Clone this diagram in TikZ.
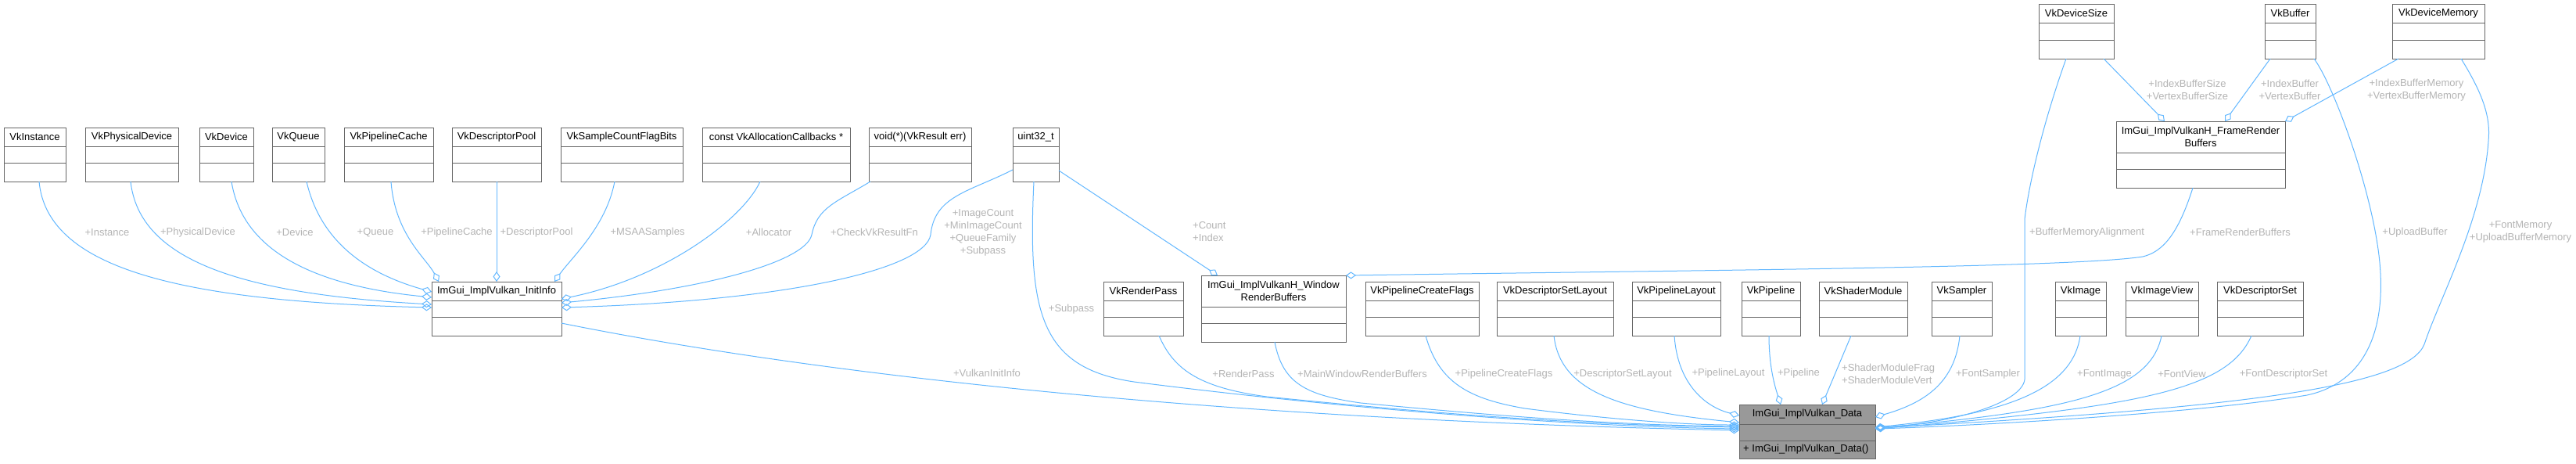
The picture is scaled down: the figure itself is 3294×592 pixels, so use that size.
\documentclass[tikz,border=0pt]{standalone}
\usepackage{fontspec}
\setmainfont{Liberation Sans}
\usetikzlibrary{arrows.meta,calc}
\definecolor{edgeblue}{HTML}{63B8FF}
\definecolor{boxgray}{HTML}{666666}
\definecolor{lblgray}{HTML}{B4B4B4}
\definecolor{datafill}{HTML}{999999}
\newcommand{\umlbox}[9][white]{%
  \pgfmathsetmacro{\bw}{#4-#3}\pgfmathsetmacro{\bh}{#8-#5}%
  \pgfmathsetmacro{\tx}{(#3+#4)/2}\pgfmathsetmacro{\ty}{(#5+#6)/2}%
  \node[classbox, fill=#1, minimum width=\bw pt, minimum height=\bh pt] (#2) at (#3,#5) {};
  \draw[sepline] (#3,#6) -- (#4,#6);
  \draw[sepline] (#3,#7) -- (#4,#7);
  \node[classtext] (#2-t) at (\tx,\ty) {#9};
}
\begin{document}
\begin{tikzpicture}[x=1pt,y=-1pt,
  classbox/.style={draw=boxgray, line width=1pt, rectangle, inner sep=0pt, outer sep=0pt, anchor=north west},
  sepline/.style={draw=boxgray, line width=1pt},
  classtext/.style={text=black, font=\fontsize{13}{16}\selectfont, inner sep=0pt, align=center},
  aggr/.style={draw=edgeblue, line width=1pt, -{Diamond[open,length=13pt,width=9pt]}},
  lbl/.style={text=lblgray, font=\fontsize{13}{16}\selectfont, inner sep=0pt, align=center},
  lbll/.style={text=lblgray, font=\fontsize{13}{16}\selectfont, inner sep=0pt, align=left, anchor=west}]
\useasboundingbox (0,0) rectangle (3294,592);
\fill[white] (0,0) rectangle (3294,592);

% row 0
\umlbox{devsize}{2607}{2703}{5}{29}{51}{75}{VkDeviceSize}
\umlbox{vkbuf}{2896}{2961}{5}{29}{51}{75}{VkBuffer}
\umlbox{devmem}{3059}{3177}{5}{29}{51}{75}{VkDeviceMemory}
\umlbox{frb}{2706}{2922}{155}{195}{216}{240}{ImGui\_ImplVulkanH\_FrameRender\\Buffers}
% row 1
\umlbox{vkinst}{5}{84}{163}{187}{208}{232}{VkInstance}
\umlbox{vkphys}{109}{228}{163}{187}{208}{232}{VkPhysicalDevice}
\umlbox{vkdev}{255}{324}{163}{187}{208}{232}{VkDevice}
\umlbox{vkqueue}{348}{415}{163}{187}{208}{232}{VkQueue}
\umlbox{vkpcache}{440}{554}{163}{187}{208}{232}{VkPipelineCache}
\umlbox{vkdpool}{578}{692}{163}{187}{208}{232}{VkDescriptorPool}
\umlbox{vksample}{717}{873}{163}{187}{208}{232}{VkSampleCountFlagBits}
\umlbox{vkalloc}{898}{1087}{163}{187}{208}{232}{const VkAllocationCallbacks *}
\umlbox{voidfn}{1111}{1242}{163}{187}{208}{232}{void(*)(VkResult err)}
\umlbox{uint}{1295}{1354}{163}{187}{208}{232}{uint32\_t}
% row 2
\umlbox{initinfo}{552}{718}{360}{384}{405}{429}{ImGui\_ImplVulkan\_InitInfo}
\umlbox{rpass}{1411}{1513}{360}{384}{405}{429}{VkRenderPass}
\umlbox{window}{1536}{1721}{352}{392}{413}{437}{ImGui\_ImplVulkanH\_Window\\RenderBuffers}
\umlbox{pcflags}{1746}{1891}{360}{384}{405}{429}{VkPipelineCreateFlags}
\umlbox{dslayout}{1914}{2063}{360}{384}{405}{429}{VkDescriptorSetLayout}
\umlbox{playout}{2087}{2200}{360}{384}{405}{429}{VkPipelineLayout}
\umlbox{pipeline}{2227}{2302}{360}{384}{405}{429}{VkPipeline}
\umlbox{shader}{2326}{2439}{360}{384}{405}{429}{VkShaderModule}
\umlbox{sampler}{2470}{2547}{360}{384}{405}{429}{VkSampler}
\umlbox{vkimage}{2628}{2693}{360}{384}{405}{429}{VkImage}
\umlbox{imgview}{2718}{2811}{360}{384}{405}{429}{VkImageView}
\umlbox{dset}{2835}{2945}{360}{384}{405}{429}{VkDescriptorSet}
% data
\umlbox[datafill]{data}{2224}{2398}{517}{542}{563}{586}{ImGui\_ImplVulkan\_Data}
\node[classtext, anchor=west] (data-m) at (2229,574) {+ ImGui\_ImplVulkan\_Data()};

% edges to InitInfo
\draw[aggr] ($(vkinst.south west)+(45,0)$) .. controls (60,340) and (220,385) .. ($(initinfo.north west)+(0,33)$);
\draw[aggr] ($(vkphys.south west)+(58,0)$) .. controls (178,330) and (300,375) .. ($(initinfo.north west)+(0,29)$);
\draw[aggr] ($(vkdev.south west)+(41,0)$) .. controls (310,320) and (400,365) .. ($(initinfo.north west)+(0,20)$);
\draw[aggr] ($(vkqueue.south west)+(44,0)$) .. controls (410,310) and (470,350) .. ($(initinfo.north west)+(0,13)$);
\draw[aggr] ($(vkpcache.south west)+(60,0)$) .. controls (505,300) and (545,330) .. ($(initinfo.north west)+(9,0)$);
\draw[aggr] ($(vkdpool.south west)+(57,0)$) -- ($(initinfo.north west)+(83,0)$);
\draw[aggr] ($(vksample.south west)+(69,0)$) .. controls (775,290) and (730,330) .. ($(initinfo.north west)+(157,0)$);
\draw[aggr] ($(vkalloc.south west)+(74,0)$) .. controls (950,280) and (850,355) .. ($(initinfo.north east)+(0,22)$);
\draw[aggr] ($(voidfn.south west)+(2,0)$) .. controls (1070,258) and (1045,265) .. (1038,300)
   .. controls (1030,335) and (900,370) .. ($(initinfo.north east)+(0,27)$);
\draw[aggr] ($(uint.north west)+(0,54)$) .. controls (1240,245) and (1195,250) .. (1190,300)
   .. controls (1183,345) and (1000,385) .. ($(initinfo.north east)+(0,33)$);
% uint32 -> window
\draw[aggr] ($(uint.north east)+(0,55)$) -- ($(window.north west)+(21,0)$);
% to FrameRenderBuffers
\draw[aggr] ($(devsize.south west)+(83,0)$) -- ($(frb.north west)+(62,0)$);
\draw[aggr] ($(vkbuf.south west)+(7,0)$) -- ($(frb.north west)+(139,0)$);
\draw[aggr] ($(devmem.south west)+(8,0)$) -- (frb.north east);
% FRB -> window
\draw[aggr] ($(frb.south west)+(98,0)$) .. controls (2785,300) and (2765,322) .. (2740,328)
   .. controls (2650,342) and (2200,345) .. (window.north east);
% edges to Data
\draw[aggr] ($(initinfo.north east)+(0,53)$) .. controls (1000,470) and (1500,535) .. ($(data.north west)+(0,33)$);
\draw[aggr] ($(uint.south west)+(27,0)$) .. controls (1314,400) and (1330,470) .. (1450,488)
   .. controls (1700,520) and (2000,545) .. ($(data.north west)+(0,31)$);
\draw[aggr] ($(rpass.south west)+(71,0)$) .. controls (1500,470) and (1530,495) .. (1620,507)
   .. controls (1800,525) and (2000,543) .. ($(data.north west)+(0,29)$);
\draw[aggr] ($(window.south west)+(94,0)$) .. controls (1640,490) and (1670,505) .. (1740,515)
   .. controls (1900,530) and (2050,543) .. ($(data.north west)+(0,28)$);
\draw[aggr] ($(pcflags.south west)+(77,0)$) .. controls (1840,490) and (1880,510) .. (1950,522)
   .. controls (2050,535) and (2150,543) .. ($(data.north west)+(0,26)$);
\draw[aggr] ($(dslayout.south west)+(73,0)$) .. controls (1995,500) and (2070,525) .. ($(data.north west)+(0,23)$);
\draw[aggr] ($(playout.south west)+(54,0)$) .. controls (2145,490) and (2180,520) .. ($(data.north west)+(0,14)$);
\draw[aggr] ($(pipeline.south west)+(35,0)$) .. controls (2262,470) and (2270,495) .. ($(data.north west)+(53,0)$);
\draw[aggr] ($(shader.south west)+(41,0)$) -- ($(data.north west)+(106,0)$);
\draw[aggr] ($(sampler.south west)+(36,0)$) .. controls (2500,490) and (2460,515) .. ($(data.north east)+(0,16)$);
\draw[aggr] ($(devsize.south west)+(35,0)$) .. controls (2615,150) and (2595,230) .. (2589,280)
   -- (2589,485) .. controls (2585,515) and (2500,540) .. ($(data.north east)+(0,30)$);
\draw[aggr] ($(vkimage.south west)+(32,0)$) .. controls (2650,500) and (2560,530) .. ($(data.north east)+(0,29)$);
\draw[aggr] ($(imgview.south west)+(46,0)$) .. controls (2750,500) and (2650,525) .. ($(data.north east)+(0,30)$);
\draw[aggr] ($(dset.south west)+(44,0)$) .. controls (2850,495) and (2750,520) .. ($(data.north east)+(0,31)$);
\draw[aggr] ($(vkbuf.south west)+(63,0)$) .. controls (2985,110) and (3040,260) .. (3044,350)
   .. controls (3048,430) and (3020,490) .. (2950,505)
   .. controls (2800,530) and (2500,545) .. ($(data.north east)+(0,31)$);
\draw[aggr] ($(devmem.south west)+(88,0)$) .. controls (3175,120) and (3185,150) .. (3182,180)
   .. controls (3175,280) and (3120,380) .. (3100,440)
   .. controls (3080,490) and (2900,520) .. ($(data.north east)+(0,30)$);

% labels
\node[lbl] (l1) at (137,297) {+Instance};
\node[lbl] (l2) at (253,297) {+PhysicalDevice};
\node[lbl] (l3) at (377,297) {+Device};
\node[lbl] (l4) at (480,297) {+Queue};
\node[lbl] (l5) at (584,297) {+PipelineCache};
\node[lbl] (l6) at (686,297) {+DescriptorPool};
\node[lbl] (l7) at (828,297) {+MSAASamples};
\node[lbl] (l8) at (983,297) {+Allocator};
\node[lbl] (l9) at (1118,297) {+CheckVkResultFn};
\node[lbl] (l10) at (1257,297) {+ImageCount\\+MinImageCount\\+QueueFamily\\+Subpass};
\node[lbll] (l11) at (1525,296) {+Count\\+Index};
\node[lbl] (l12) at (1370,395) {+Subpass};
\node[lbl] (l13) at (1262,477) {+VulkanInitInfo};
\node[lbl] (l14) at (1590,478) {+RenderPass};
\node[lbl] (l15) at (1742,478) {+MainWindowRenderBuffers};
\node[lbl] (l16) at (1923,478) {+PipelineCreateFlags};
\node[lbl] (l17) at (2075,478) {+DescriptorSetLayout};
\node[lbl] (l18) at (2210,477) {+PipelineLayout};
\node[lbl] (l19) at (2300,477) {+Pipeline};
\node[lbll] (l20) at (2355,478) {+ShaderModuleFrag\\+ShaderModuleVert};
\node[lbl] (l21) at (2542,478) {+FontSampler};
\node[lbl] (l22) at (2691,478) {+FontImage};
\node[lbl] (l23) at (2790,478) {+FontView};
\node[lbl] (l24) at (2920,478) {+FontDescriptorSet};
\node[lbll] (l25) at (2595,297) {+BufferMemoryAlignment};
\node[lbll] (l26) at (2800,297) {+FrameRenderBuffers};
\node[lbl] (l27) at (3088,297) {+UploadBuffer};
\node[lbl] (l28) at (3223,296) {+FontMemory\\+UploadBufferMemory};
\node[lbl] (l29) at (2797,115) {+IndexBufferSize\\+VertexBufferSize};
\node[lbl] (l30) at (2928,115) {+IndexBuffer\\+VertexBuffer};
\node[lbl] (l31) at (3090,115) {+IndexBufferMemory\\+VertexBufferMemory};
\end{tikzpicture}
\end{document}
